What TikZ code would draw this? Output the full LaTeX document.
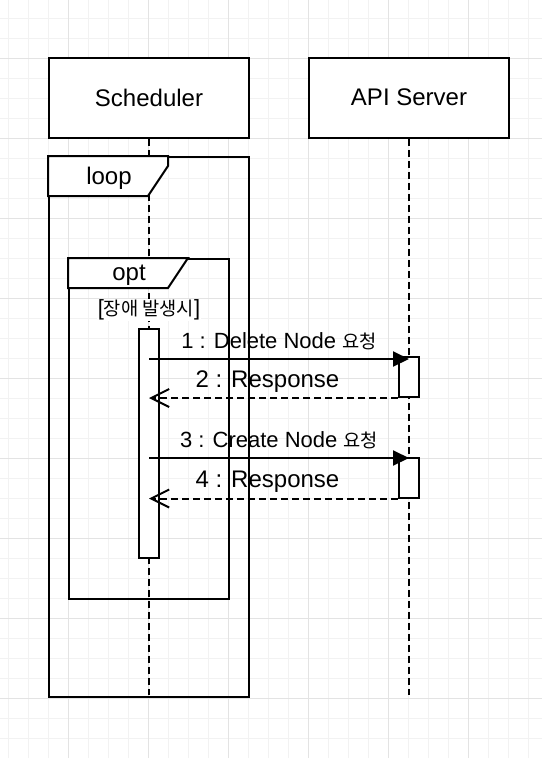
\documentclass[tikz,border=0pt]{standalone}
\usepackage{fontspec}
\setmainfont{Liberation Sans}
\newfontfamily\kr[Scale=0.85]{Noto Sans CJK KR}
\usetikzlibrary{arrows.meta}
\usepackage{xcolor}

\begin{document}
\begin{tikzpicture}[
  x=1pt,y=-1pt,
  line width=2pt,
  every node/.style={font=\fontsize{24}{28}\selectfont},
  gridminor/.style={line width=1pt,draw=black!5},
  gridmajor/.style={line width=1pt,draw=black!11},
  actor/.style={draw,fill=white,minimum width=200pt,minimum height=80pt,
    inner sep=0pt},
  lifeline/.style={dash pattern=on 7pt off 4pt},
  fragment/.style={draw,inner sep=0pt},
  fragtab/.style={draw,fill=white},
  activation/.style={draw,fill=white,minimum width=20pt,inner sep=0pt},
  call/.style={-{Triangle[length=16pt,width=15pt]}},
  reply/.style={-{Straight Barb[length=18pt,width=18pt]},
    dash pattern=on 7pt off 4pt},
  msglabel/.style={font=\fontsize{22}{26}\selectfont,anchor=base,
    inner sep=0pt,yshift=11pt}
]
  \useasboundingbox (0,0) rectangle (542,758);
  \fill[white] (0,0) rectangle (542,758);

  % Background grid.
  \foreach \gx in {8.5,28.5,...,542} \draw[gridminor] (\gx,0) -- (\gx,758);
  \foreach \gy in {18.5,38.5,...,758} \draw[gridminor] (0,\gy) -- (542,\gy);
  \foreach \gx in {68.5,148.5,...,542} \draw[gridmajor] (\gx,0) -- (\gx,758);
  \foreach \gy in {58.5,138.5,...,758} \draw[gridmajor] (0,\gy) -- (542,\gy);

  % Participants and their lifelines.
  \node[actor] (sched) at (149,97.5) {Scheduler};
  \node[actor] (api) at (409,97.5) {API Server};
  \coordinate (schedEnd) at (149,695);
  \coordinate (apiEnd) at (409,695);
  \draw[lifeline] (sched.south) -- (schedEnd);
  \draw[lifeline] (api.south) -- (apiEnd);

  % Combined fragments: loop with an opt inside.
  \node[fragment,minimum width=200pt,minimum height=540pt] (loop) at (149,427) {};
  \draw[fragtab] (loop.north west) -- ++(120,0) -- ++(0,10) -- ++(-20,30)
    -- ++(-100,0) -- cycle;
  \node (loopLabel) at (109,178.5) {loop};

  \node[fragment,minimum width=160pt,minimum height=340pt] (opt) at (149,429) {};
  \draw[fragtab] (opt.north west) -- ++(120,0) -- ++(-20,30)
    -- ++(-100,0) -- cycle;
  \node (optLabel) at (129,275.5) {opt};
  \node[fill=white,inner sep=1pt,font=\fontsize{22}{26}\selectfont]
    (guard) at (149,310) {[{\kr 장애 발생시}]};

  % Activations.
  \node[activation,minimum height=229pt] (schedAct) at (149,443.5) {};
  \node[activation,minimum height=40pt] (apiAct1) at (409,377) {};
  \node[activation,minimum height=40pt] (apiAct2) at (409,477.5) {};

  % Messages.
  \coordinate (m1) at (149,359);
  \coordinate (m3) at (149,458);
  \draw[call] (m1) -- node[msglabel,midway] {1 : Delete Node {\kr 요청}}
    (m1 -| apiAct1.center);
  \draw[reply] (apiAct1.south west) --
    node[msglabel,midway,xshift=-6pt,font=\fontsize{24}{28}\selectfont]
    {2 : Response} (apiAct1.south west -| schedAct.center);
  \draw[call] (m3) -- node[msglabel,midway] {3 : Create Node {\kr 요청}}
    (m3 -| apiAct2.center);
  \draw[reply] (apiAct2.south west) --
    node[msglabel,midway,xshift=-6pt,font=\fontsize{24}{28}\selectfont]
    {4 : Response} (apiAct2.south west -| schedAct.center);
\end{tikzpicture}
\end{document}
